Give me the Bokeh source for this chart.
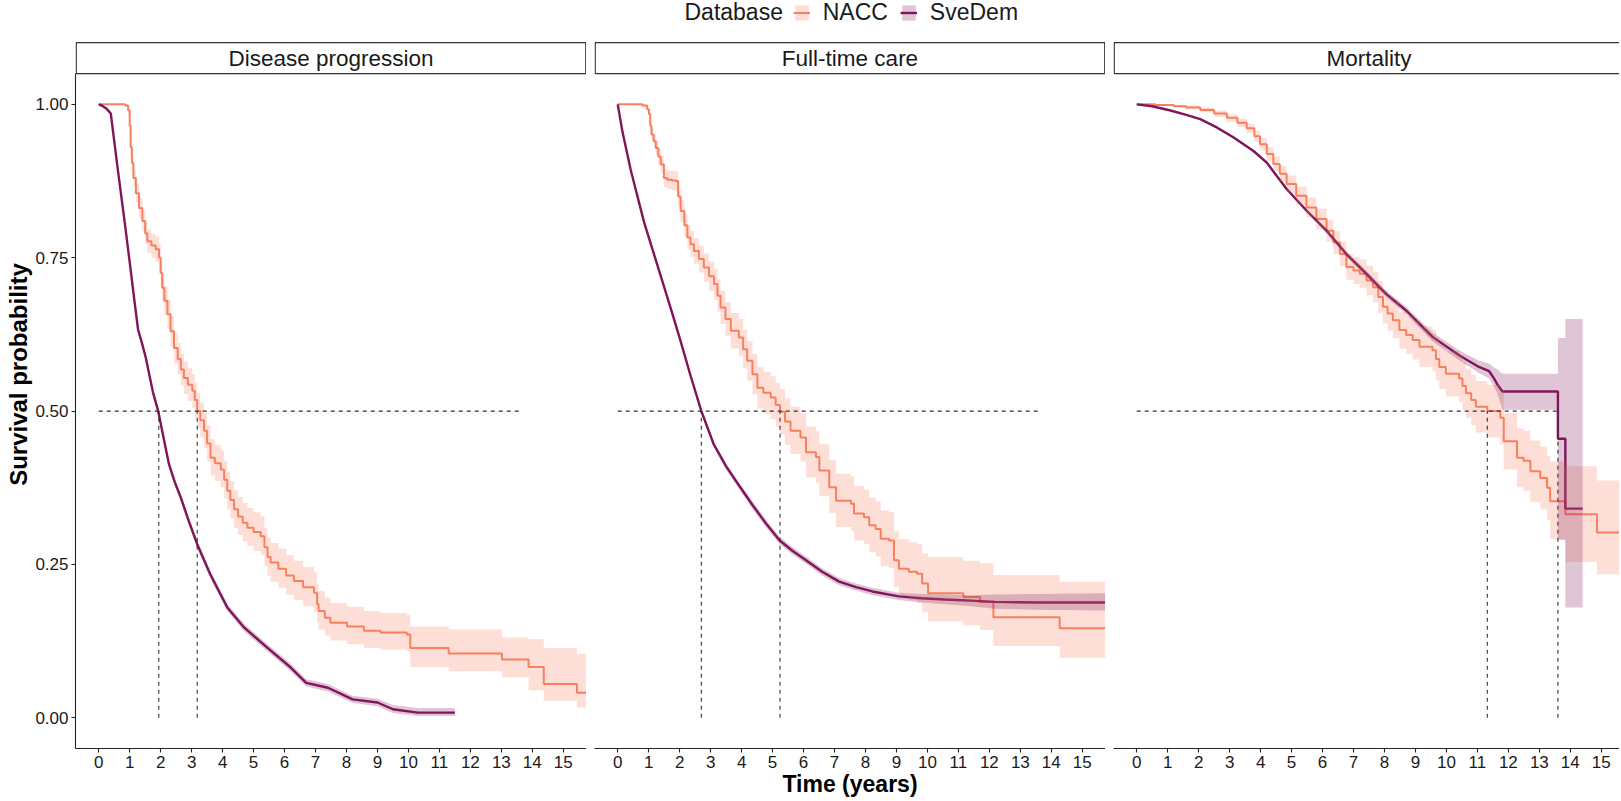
from bokeh.plotting import figure
from bokeh.models import Range1d, FixedTicker, NumeralTickFormatter, Legend, LegendItem, Label
from bokeh.layouts import row
from bokeh.embed import file_html
from bokeh.resources import INLINE
from bokeh.core.properties import value

# ------------------------------------------------------------------ data
panels = ["Disease progression", "Full-time care", "Mortality"]
databases = ["NACC", "SveDem"]
x_ticks = list(range(0, 16))
y_ticks = [0.0, 0.25, 0.5, 0.75, 1.0]

# Disease progression - NACC (Kaplan-Meier steps)
dp_nacc_time = [0.00, 0.85, 0.95, 1.00, 1.03, 1.07, 1.12, 1.20, 1.30, 1.41, 1.50, 1.57, 1.70, 1.84, 1.95,
                2.00, 2.05, 2.12, 2.22, 2.32, 2.43, 2.55, 2.65, 2.75, 2.88, 3.02, 3.10, 3.18, 3.28, 3.40,
                3.50, 3.61, 3.75, 3.94, 4.05, 4.15, 4.25, 4.37, 4.50, 4.65, 4.80, 5.00, 5.23, 5.35, 5.45,
                5.55, 5.80, 6.05, 6.30, 6.60, 6.95, 7.05, 7.10, 7.30, 7.48, 8.02, 8.56, 9.10, 9.95, 10.06,
                11.30, 13.02, 13.88, 14.37, 15.44, 15.75]
dp_nacc_surv = [1.000, 0.998, 0.990, 0.965, 0.930, 0.905, 0.880, 0.855, 0.831, 0.810, 0.790, 0.777, 0.770, 0.764, 0.750,
                0.725, 0.701, 0.680, 0.658, 0.630, 0.603, 0.585, 0.568, 0.554, 0.543, 0.533, 0.518, 0.500, 0.485, 0.468,
                0.447, 0.424, 0.415, 0.405, 0.388, 0.370, 0.355, 0.340, 0.328, 0.318, 0.310, 0.303, 0.296, 0.278, 0.262,
                0.253, 0.243, 0.232, 0.223, 0.213, 0.204, 0.185, 0.174, 0.163, 0.155, 0.149, 0.142, 0.139, 0.136, 0.114,
                0.105, 0.095, 0.083, 0.055, 0.041, 0.041]
dp_nacc_lower = [1.000, 0.995, 0.984, 0.955, 0.918, 0.892, 0.866, 0.840, 0.815, 0.793, 0.772, 0.758, 0.750, 0.743, 0.729,
                 0.703, 0.679, 0.657, 0.634, 0.606, 0.578, 0.560, 0.542, 0.528, 0.516, 0.505, 0.490, 0.472, 0.457, 0.439,
                 0.418, 0.395, 0.386, 0.376, 0.358, 0.340, 0.325, 0.310, 0.298, 0.288, 0.280, 0.272, 0.265, 0.247, 0.231,
                 0.222, 0.212, 0.201, 0.192, 0.182, 0.173, 0.155, 0.144, 0.134, 0.126, 0.120, 0.114, 0.111, 0.108, 0.083,
                 0.076, 0.066, 0.045, 0.028, 0.017, 0.017]
dp_nacc_upper = [1.000, 1.000, 0.995, 0.975, 0.942, 0.918, 0.894, 0.870, 0.847, 0.827, 0.808, 0.796, 0.789, 0.785, 0.771,
                 0.747, 0.723, 0.703, 0.682, 0.655, 0.628, 0.611, 0.594, 0.581, 0.570, 0.560, 0.546, 0.529, 0.514, 0.497,
                 0.477, 0.454, 0.445, 0.436, 0.419, 0.401, 0.386, 0.371, 0.360, 0.350, 0.342, 0.335, 0.328, 0.310, 0.294,
                 0.285, 0.276, 0.265, 0.256, 0.246, 0.237, 0.218, 0.207, 0.196, 0.187, 0.181, 0.174, 0.171, 0.168, 0.149,
                 0.144, 0.131, 0.128, 0.114, 0.104, 0.104]

# Disease progression - SveDem
dp_sve_time = [0.00, 0.10, 0.25, 0.39, 0.60, 0.82, 1.00, 1.15, 1.27, 1.40, 1.52, 1.75, 1.92, 2.10, 2.27,
               2.45, 2.65, 2.90, 3.18, 3.60, 4.15, 4.70, 5.45, 6.20, 6.70, 7.40, 8.20, 9.00, 9.50, 10.30, 11.50]
dp_sve_surv = [1.000, 0.998, 0.993, 0.985, 0.900, 0.815, 0.743, 0.681, 0.633, 0.610, 0.587, 0.531, 0.500, 0.455, 0.413,
               0.385, 0.359, 0.322, 0.283, 0.234, 0.180, 0.147, 0.114, 0.082, 0.057, 0.049, 0.030, 0.025, 0.014, 0.0085, 0.0085]
dp_sve_lower = [1.000, 0.997, 0.991, 0.982, 0.895, 0.809, 0.737, 0.675, 0.627, 0.604, 0.581, 0.525, 0.494, 0.449, 0.407,
                0.379, 0.353, 0.316, 0.277, 0.228, 0.174, 0.141, 0.108, 0.076, 0.051, 0.043, 0.024, 0.019, 0.008, 0.003, 0.003]
dp_sve_upper = [1.000, 0.999, 0.995, 0.988, 0.905, 0.821, 0.749, 0.687, 0.639, 0.616, 0.593, 0.537, 0.506, 0.461, 0.419,
                0.391, 0.365, 0.328, 0.289, 0.240, 0.186, 0.153, 0.120, 0.088, 0.063, 0.055, 0.036, 0.031, 0.021, 0.016, 0.016]

# Full-time care - NACC
ftc_nacc_time = [0.00, 0.80, 0.95, 1.01, 1.05, 1.09, 1.16, 1.23, 1.31, 1.39, 1.49, 1.60, 1.75, 1.87, 1.95,
                 2.03, 2.15, 2.25, 2.35, 2.46, 2.62, 2.78, 2.95, 3.11, 3.22, 3.32, 3.48, 3.65, 3.91, 4.05,
                 4.18, 4.35, 4.51, 4.70, 4.94, 5.10, 5.24, 5.40, 5.58, 5.90, 6.08, 6.40, 6.51, 6.83, 7.05,
                 7.53, 7.63, 7.95, 8.12, 8.33, 8.49, 8.76, 8.92, 9.08, 9.40, 9.66, 9.83, 10.02, 11.16, 11.70,
                 12.13, 14.27, 15.75]
ftc_nacc_surv = [1.000, 0.998, 0.992, 0.984, 0.965, 0.951, 0.940, 0.929, 0.915, 0.902, 0.880, 0.877, 0.876, 0.875, 0.850,
                 0.826, 0.803, 0.783, 0.772, 0.761, 0.748, 0.734, 0.720, 0.707, 0.688, 0.669, 0.650, 0.631, 0.620, 0.601,
                 0.582, 0.560, 0.538, 0.530, 0.522, 0.510, 0.499, 0.483, 0.468, 0.457, 0.433, 0.425, 0.403, 0.376, 0.354,
                 0.349, 0.333, 0.327, 0.314, 0.308, 0.292, 0.289, 0.257, 0.243, 0.238, 0.235, 0.219, 0.203, 0.197, 0.189,
                 0.164, 0.146, 0.146]
ftc_nacc_lower = [1.000, 0.996, 0.987, 0.977, 0.956, 0.941, 0.929, 0.917, 0.902, 0.888, 0.865, 0.862, 0.860, 0.859, 0.833,
                  0.808, 0.784, 0.763, 0.751, 0.740, 0.726, 0.711, 0.696, 0.682, 0.662, 0.642, 0.622, 0.602, 0.590, 0.570,
                  0.550, 0.527, 0.504, 0.496, 0.487, 0.474, 0.462, 0.445, 0.430, 0.418, 0.392, 0.383, 0.361, 0.334, 0.311,
                  0.305, 0.289, 0.283, 0.270, 0.263, 0.247, 0.244, 0.213, 0.198, 0.192, 0.188, 0.172, 0.157, 0.151, 0.143,
                  0.117, 0.098, 0.098]
ftc_nacc_upper = [1.000, 1.000, 0.996, 0.990, 0.974, 0.961, 0.951, 0.941, 0.928, 0.916, 0.895, 0.892, 0.892, 0.891, 0.867,
                  0.844, 0.822, 0.803, 0.793, 0.782, 0.770, 0.757, 0.744, 0.732, 0.714, 0.696, 0.678, 0.660, 0.650, 0.632,
                  0.614, 0.593, 0.572, 0.564, 0.557, 0.546, 0.536, 0.521, 0.507, 0.496, 0.475, 0.467, 0.446, 0.420, 0.398,
                  0.394, 0.378, 0.372, 0.359, 0.353, 0.338, 0.335, 0.304, 0.291, 0.286, 0.283, 0.268, 0.262, 0.256, 0.252,
                  0.233, 0.222, 0.222]

# Full-time care - SveDem
ftc_sve_time = [0.00, 0.15, 0.42, 0.85, 1.28, 1.71, 2.03, 2.35, 2.70, 3.10, 3.50, 3.90, 4.35, 4.80, 5.23,
                5.65, 6.08, 6.60, 7.15, 7.70, 8.22, 9.08, 9.80, 10.57, 11.40, 12.18, 13.50, 15.75]
ftc_sve_surv = [1.000, 0.956, 0.893, 0.808, 0.738, 0.668, 0.614, 0.558, 0.500, 0.446, 0.410, 0.380, 0.347, 0.316, 0.289,
                0.272, 0.257, 0.238, 0.222, 0.213, 0.206, 0.198, 0.195, 0.193, 0.191, 0.189, 0.188, 0.188]
ftc_sve_lower = [1.000, 0.954, 0.890, 0.804, 0.734, 0.664, 0.610, 0.553, 0.495, 0.441, 0.405, 0.375, 0.341, 0.310, 0.283,
                 0.266, 0.251, 0.232, 0.216, 0.207, 0.200, 0.192, 0.188, 0.185, 0.182, 0.178, 0.176, 0.175]
ftc_sve_upper = [1.000, 0.958, 0.896, 0.812, 0.742, 0.672, 0.618, 0.563, 0.505, 0.451, 0.415, 0.385, 0.353, 0.322, 0.295,
                 0.278, 0.263, 0.244, 0.228, 0.219, 0.212, 0.204, 0.202, 0.201, 0.200, 0.201, 0.202, 0.203]

# Mortality - NACC
mort_nacc_time = [0.00, 0.60, 1.20, 1.60, 2.05, 2.50, 2.91, 3.25, 3.55, 3.80, 3.98, 4.20, 4.41, 4.62, 4.84,
                  5.15, 5.48, 5.80, 6.13, 6.35, 6.56, 6.77, 7.00, 7.20, 7.42, 7.63, 7.80, 7.95, 8.10, 8.27,
                  8.48, 8.70, 8.91, 9.13, 9.55, 9.66, 9.77, 9.98, 10.41, 10.52, 10.63, 10.80, 10.95, 11.32, 11.74,
                  11.85, 12.28, 12.49, 12.71, 13.03, 13.25, 13.35, 13.84, 14.86, 15.75]
mort_nacc_surv = [1.000, 0.999, 0.997, 0.995, 0.991, 0.985, 0.978, 0.970, 0.961, 0.948, 0.935, 0.919, 0.903, 0.887, 0.870,
                  0.851, 0.832, 0.813, 0.794, 0.775, 0.756, 0.735, 0.729, 0.724, 0.713, 0.702, 0.686, 0.670, 0.659, 0.648,
                  0.632, 0.624, 0.616, 0.605, 0.599, 0.585, 0.572, 0.561, 0.553, 0.541, 0.529, 0.518, 0.507, 0.500, 0.489,
                  0.451, 0.424, 0.419, 0.402, 0.391, 0.375, 0.353, 0.332, 0.302, 0.302]
mort_nacc_lower = [1.000, 0.998, 0.995, 0.992, 0.987, 0.980, 0.972, 0.963, 0.953, 0.939, 0.925, 0.908, 0.891, 0.874, 0.856,
                   0.836, 0.816, 0.796, 0.776, 0.756, 0.736, 0.714, 0.707, 0.701, 0.689, 0.677, 0.660, 0.643, 0.631, 0.619,
                   0.602, 0.593, 0.584, 0.572, 0.565, 0.550, 0.536, 0.524, 0.515, 0.502, 0.489, 0.477, 0.465, 0.457, 0.445,
                   0.405, 0.376, 0.370, 0.352, 0.340, 0.323, 0.292, 0.254, 0.234, 0.234]
mort_nacc_upper = [1.000, 1.000, 0.999, 0.998, 0.995, 0.990, 0.984, 0.977, 0.969, 0.957, 0.945, 0.930, 0.915, 0.900, 0.884,
                   0.866, 0.848, 0.830, 0.812, 0.794, 0.776, 0.756, 0.751, 0.747, 0.737, 0.727, 0.712, 0.697, 0.687, 0.677,
                   0.662, 0.655, 0.648, 0.638, 0.633, 0.620, 0.608, 0.598, 0.591, 0.580, 0.569, 0.559, 0.549, 0.543, 0.533,
                   0.497, 0.472, 0.468, 0.452, 0.442, 0.427, 0.418, 0.410, 0.387, 0.387]

# Mortality - SveDem (duplicated times mark the large late steps)
mort_sve_time = [0.00, 0.50, 1.09, 1.60, 2.05, 2.60, 3.13, 3.77, 4.20, 4.84, 5.48, 6.13, 6.77, 7.41, 8.05,
                 8.70, 9.55, 10.41, 11.05, 11.38, 11.54, 11.65, 11.81, 13.60, 13.60, 13.84, 13.84, 14.40]
mort_sve_surv = [1.000, 0.997, 0.990, 0.983, 0.976, 0.962, 0.946, 0.924, 0.905, 0.862, 0.827, 0.794, 0.756, 0.724, 0.691,
                 0.664, 0.621, 0.591, 0.572, 0.565, 0.553, 0.543, 0.532, 0.532, 0.455, 0.455, 0.341, 0.341]
mort_sve_lower = [1.000, 0.996, 0.989, 0.982, 0.975, 0.960, 0.944, 0.922, 0.902, 0.859, 0.824, 0.790, 0.752, 0.719, 0.686,
                  0.658, 0.614, 0.583, 0.562, 0.553, 0.540, 0.528, 0.502, 0.502, 0.290, 0.290, 0.180, 0.180]
mort_sve_upper = [1.000, 0.998, 0.991, 0.984, 0.977, 0.964, 0.948, 0.926, 0.908, 0.865, 0.830, 0.798, 0.760, 0.729, 0.696,
                  0.670, 0.628, 0.599, 0.582, 0.577, 0.571, 0.568, 0.561, 0.561, 0.619, 0.619, 0.650, 0.650]

# Median survival times per panel
median_nacc = [3.18, 5.24, 11.32]
median_svedem = [1.94, 2.70, 13.60]

curves = [
    {"NACC": (dp_nacc_time, dp_nacc_surv, dp_nacc_lower, dp_nacc_upper),
     "SveDem": (dp_sve_time, dp_sve_surv, dp_sve_lower, dp_sve_upper)},
    {"NACC": (ftc_nacc_time, ftc_nacc_surv, ftc_nacc_lower, ftc_nacc_upper),
     "SveDem": (ftc_sve_time, ftc_sve_surv, ftc_sve_lower, ftc_sve_upper)},
    {"NACC": (mort_nacc_time, mort_nacc_surv, mort_nacc_lower, mort_nacc_upper),
     "SveDem": (mort_sve_time, mort_sve_surv, mort_sve_lower, mort_sve_upper)},
]

# ------------------------------------------------------------------ style / layout
NACC_COLOR = "#F9805F"
SVE_COLOR = "#80165A"
BAND_ALPHA = 0.25
FONT = "Liberation Sans"
TEXT_COLOR = "#1A1A1A"
AXIS_COLOR = "#222222"

PX_PER_YEAR = 30.97
X0 = -0.75
Y0 = -0.05
PLOT_TOP = 1.05
FRAME_H = 748
BORDER_B = 52
PLOT_TOP_PX = 73.2          # pixel row of the panel tops (below the strips)
PX_PER_UNIT = (FRAME_H - PLOT_TOP_PX) / (PLOT_TOP - Y0)
Y1 = Y0 + FRAME_H / PX_PER_UNIT
STRIP_TOP = PLOT_TOP + 31 / PX_PER_UNIT
NOMINAL_W = 511
frame_widths = [511, 511, 506]
left_borders = [75, 8, 8]
TICK_FONT = "17px"
STRIP_FONT = "22.5px"
TITLE_FONT = "23px"
YTITLE_FONT = "24px"
LEGEND_FONT = "23px"

figs = []
legend_renderers = {}
for i, name in enumerate(panels):
    fw = frame_widths[i]
    x_end = X0 + fw / PX_PER_YEAR
    p = figure(frame_width=fw, frame_height=FRAME_H,
               x_range=Range1d(X0, x_end), y_range=Range1d(Y0, Y1),
               output_backend="svg", toolbar_location=None, tools="",
               min_border_left=left_borders[i], min_border_right=0,
               min_border_top=0, min_border_bottom=BORDER_B,
               y_axis_location="left" if i == 0 else None,
               outline_line_color=None, background_fill_color="white",
               border_fill_color="white")
    p.grid.visible = False

    # x axis
    xa = p.xaxis[0]
    xa.ticker = FixedTicker(ticks=x_ticks)
    xa.axis_line_color = AXIS_COLOR
    xa.axis_line_width = 1.1
    xa.major_tick_line_color = AXIS_COLOR
    xa.major_tick_line_width = 1.1
    xa.major_tick_in = 0
    xa.major_tick_out = 4
    xa.minor_tick_line_color = None
    xa.major_label_standoff = 3
    xa.major_label_text_font = FONT
    xa.major_label_text_font_size = TICK_FONT
    xa.major_label_text_color = TEXT_COLOR
    if i == 1:
        xa.axis_label = "Time (years)"
        xa.axis_label_text_font = FONT
        xa.axis_label_text_font_style = "bold"
        xa.axis_label_text_font_size = TITLE_FONT
        xa.axis_label_text_color = "#000000"
        xa.axis_label_standoff = 0

    if i == 0:
        ya = p.yaxis[0]
        ya.ticker = FixedTicker(ticks=y_ticks)
        ya.formatter = NumeralTickFormatter(format="0.00")
        ya.bounds = (Y0, PLOT_TOP)
        ya.axis_line_color = AXIS_COLOR
        ya.axis_line_width = 1.1
        ya.major_tick_line_color = AXIS_COLOR
        ya.major_tick_line_width = 1.1
        ya.major_tick_in = 0
        ya.major_tick_out = 4
        ya.minor_tick_line_color = None
        ya.major_label_standoff = 3
        ya.major_label_text_font = FONT
        ya.major_label_text_font_size = TICK_FONT
        ya.major_label_text_color = TEXT_COLOR
        ya.axis_label = "Survival probability"
        ya.axis_label_text_font = FONT
        ya.axis_label_text_font_style = "bold"
        ya.axis_label_text_font_size = YTITLE_FONT
        ya.axis_label_text_color = "#000000"
        ya.axis_label_standoff = 0

    # curves: lines first, confidence bands over them
    nt, ns, nl, nu = curves[i]["NACC"]
    st, ss, sl, su = curves[i]["SveDem"]
    r_nl = p.step(x=nt, y=ns, mode="after", line_color=NACC_COLOR, line_width=2.0)
    r_sl = p.line(x=st, y=ss, line_color=SVE_COLOR, line_width=2.4)
    r_nb = p.varea_step(x=nt, y1=nl, y2=nu, step_mode="after",
                        fill_color=NACC_COLOR, fill_alpha=BAND_ALPHA)
    r_sb = p.varea(x=st, y1=sl, y2=su, fill_color=SVE_COLOR, fill_alpha=BAND_ALPHA)
    if i == 1:
        legend_renderers = {"NACC": [r_nb, r_nl], "SveDem": [r_sb, r_sl]}

    # median lines
    meds = [median_svedem[i], median_nacc[i]]
    hmax = max(median_nacc + median_svedem)
    p.segment(x0=[0], y0=[0.5], x1=[hmax], y1=[0.5], line_color="#333333",
              line_width=1.1, line_dash="4 4")
    p.segment(x0=meds, y0=[0, 0], x1=meds, y1=[0.5, 0.5], line_color="#333333",
              line_width=1.1, line_dash="4 4")

    # facet strip
    inset = 0.7 / PX_PER_YEAR
    p.quad(left=[X0 + inset], right=[X0 + NOMINAL_W / PX_PER_YEAR - inset],
           bottom=[PLOT_TOP], top=[STRIP_TOP],
           fill_color="white", line_color="#333333", line_width=1.3)
    p.text(x=[X0 + NOMINAL_W / 2 / PX_PER_YEAR], y=[(PLOT_TOP + STRIP_TOP) / 2], text=[name],
           text_font=value(FONT), text_font_size=STRIP_FONT, text_color=TEXT_COLOR,
           text_align="center", text_baseline="middle")
    figs.append(p)

# legend on the middle panel (top area)
p2 = figs[1]
LEG_H = 26
LEG_TOP = 0
legend = Legend(items=[LegendItem(label=db, renderers=legend_renderers[db]) for db in databases],
                orientation="horizontal", location=(198.7, FRAME_H - LEG_TOP - LEG_H),
                padding=0, margin=0, spacing=12, label_standoff=13,
                glyph_width=17, glyph_height=19,
                label_text_font=FONT, label_text_font_size=LEGEND_FONT, label_text_color=TEXT_COLOR,
                border_line_color=None, background_fill_alpha=0)
p2.add_layout(legend)
p2.add_layout(Label(x=X0 + (684 - 594) / PX_PER_YEAR, y=Y1 - 11.7 / PX_PER_UNIT,
                    text="Database", text_font=FONT, text_font_size=LEGEND_FONT,
                    text_color=TEXT_COLOR, text_baseline="middle", text_align="left"))

layout = row(*figs, spacing=0)
open("out.html", "w").write(file_html(layout, INLINE))
